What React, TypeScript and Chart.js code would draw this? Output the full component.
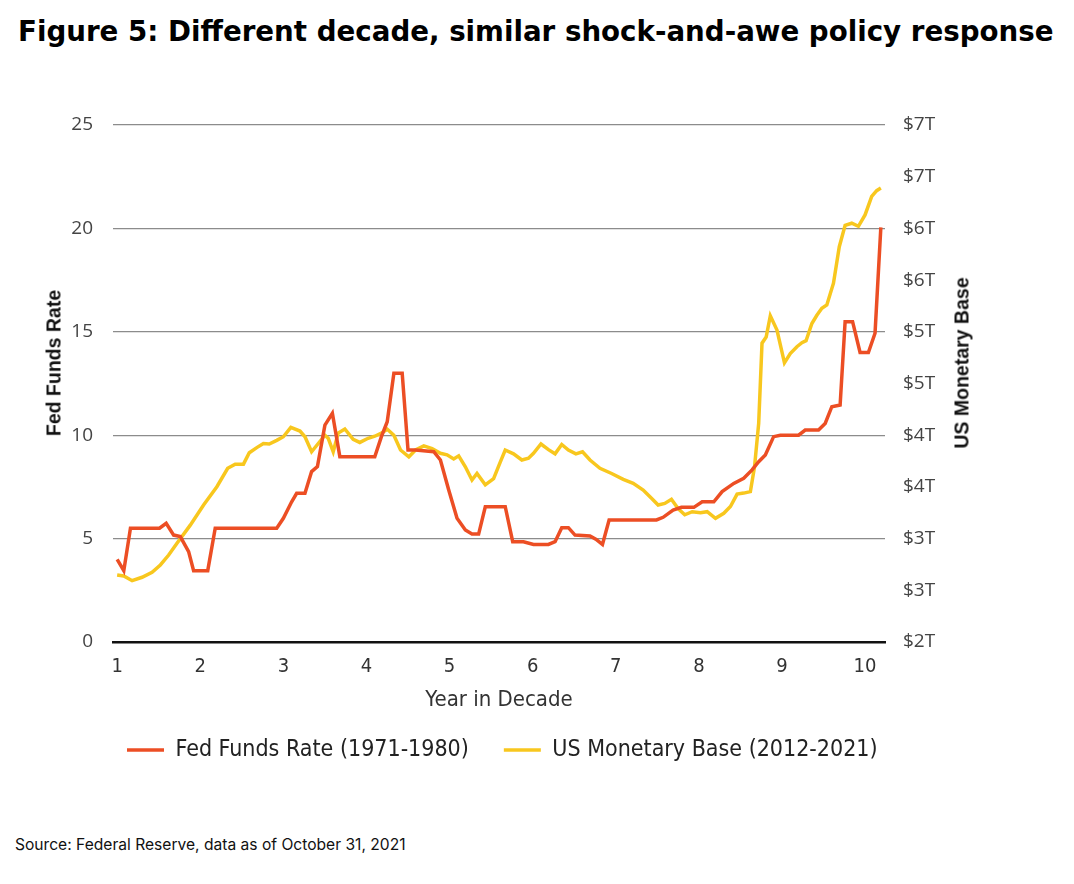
import React, { useEffect, useRef } from "react";
import { Chart, registerables } from "chart.js";

Chart.register(...registerables);

const titleText = "Figure 5: Different decade, similar shock-and-awe policy response";
const sourceText = "Source: Federal Reserve, data as of October 31, 2021";
const leftAxisTitle = "Fed Funds Rate";
const rightAxisTitle = "US Monetary Base";
const xAxisTitle = "Year in Decade";
const fedLabel = "Fed Funds Rate (1971-1980)";
const baseLabel = "US Monetary Base (2012-2021)";

const xTickValues = [1, 2, 3, 4, 5, 6, 7, 8, 9, 10];

const fedYears = [
  1.0, 1.08, 1.16, 1.51, 1.59, 1.68, 1.76, 1.86, 1.92, 2.09, 2.18, 2.92, 3.0, 3.1, 3.16, 3.26,
  3.34, 3.41, 3.5, 3.59, 3.68, 4.1, 4.18, 4.25, 4.33, 4.43, 4.5, 4.59, 4.81, 4.89, 4.99, 5.09,
  5.19, 5.27, 5.35, 5.43, 5.67, 5.76, 5.89, 6.01, 6.19, 6.27, 6.35, 6.43, 6.51, 6.69, 6.76, 6.84,
  6.92, 7.49, 7.57, 7.69, 7.79, 7.94, 8.04, 8.18, 8.28, 8.42, 8.54, 8.64, 8.72, 8.8, 8.9, 8.98,
  9.2, 9.28, 9.44, 9.52, 9.6, 9.7, 9.76, 9.85, 9.94, 10.04, 10.12, 10.19,
];
const fedRates = [
  4.0, 3.45, 5.5, 5.5, 5.74, 5.17, 5.1, 4.37, 3.45, 3.45, 5.5, 5.5, 5.98, 6.78, 7.19, 7.19,
  8.24, 8.48, 10.49, 11.06, 8.96, 8.96, 9.93, 10.65, 13.0, 13.0, 9.28, 9.28, 9.2, 8.8, 7.35, 5.98,
  5.42, 5.22, 5.22, 6.54, 6.54, 4.85, 4.85, 4.72, 4.72, 4.85, 5.53, 5.53, 5.17, 5.13, 4.97, 4.72,
  5.9, 5.9, 6.03, 6.38, 6.51, 6.51, 6.78, 6.78, 7.27, 7.67, 7.92, 8.32, 8.72, 9.04, 9.93, 10.0,
  10.0, 10.25, 10.25, 10.57, 11.38, 11.46, 15.49, 15.49, 14.0, 14.0, 14.93, 20.05,
];

const baseYears = [
  1.0, 1.08, 1.18, 1.3, 1.42, 1.52, 1.62, 1.72, 1.88, 2.04, 2.2, 2.33, 2.42, 2.52, 2.59, 2.68,
  2.76, 2.83, 2.92, 3.0, 3.09, 3.2, 3.26, 3.34, 3.42, 3.5, 3.54, 3.6, 3.66, 3.74, 3.84, 3.92,
  4.02, 4.1, 4.18, 4.25, 4.33, 4.41, 4.51, 4.59, 4.69, 4.79, 4.89, 4.97, 5.05, 5.11, 5.19, 5.27,
  5.33, 5.43, 5.53, 5.61, 5.67, 5.77, 5.87, 5.95, 6.01, 6.1, 6.19, 6.27, 6.35, 6.43, 6.52, 6.6,
  6.69, 6.81, 6.95, 7.09, 7.21, 7.33, 7.43, 7.51, 7.59, 7.67, 7.75, 7.83, 7.92, 8.02, 8.1, 8.2,
  8.3, 8.38, 8.46, 8.54, 8.62, 8.67, 8.72, 8.76, 8.81, 8.86, 8.94, 9.03, 9.1, 9.18, 9.24, 9.29,
  9.36, 9.42, 9.48, 9.54, 9.62, 9.69, 9.76, 9.84, 9.92, 10.0, 10.08, 10.14, 10.19,
];
const baseTrillions = [
  2.648, 2.638, 2.593, 2.626, 2.674, 2.745, 2.841, 2.955, 3.13, 3.325, 3.502, 3.68, 3.72, 3.72, 3.83, 3.88,
  3.92, 3.915, 3.95, 3.985, 4.076, 4.04, 3.985, 3.84, 3.92, 4.0, 3.97, 3.84, 4.02, 4.06, 3.96, 3.93,
  3.97, 3.99, 4.02, 4.057, 4.0, 3.857, 3.79, 3.857, 3.896, 3.87, 3.825, 3.81, 3.77, 3.8, 3.695, 3.567,
  3.63, 3.52, 3.58, 3.74, 3.857, 3.82, 3.76, 3.777, 3.825, 3.915, 3.86, 3.82, 3.91, 3.857, 3.82, 3.84,
  3.76, 3.68, 3.63, 3.573, 3.535, 3.47, 3.39, 3.325, 3.34, 3.38, 3.29, 3.23, 3.26, 3.25, 3.26, 3.196,
  3.245, 3.31, 3.43, 3.44, 3.454, 3.695, 4.115, 4.89, 4.95, 5.155, 5.017, 4.7, 4.79, 4.856, 4.895, 4.914,
  5.08, 5.16, 5.227, 5.26, 5.47, 5.823, 6.03, 6.05, 6.02, 6.13, 6.31, 6.365, 6.39,
];

const RED = "#EC4E24";
const YELLOW = "#F8C71E";

const tickFont = "'Open Sans', 'DejaVu Sans', sans-serif";
const narrowFont = "'Liberation Sans Narrow', 'DejaVu Sans Condensed', 'Liberation Sans', sans-serif";

// Moves the legend box so that it sits just under the axis title, left-aligned under the plot.
const legendPlacement = {
  id: "legendPlacement",
  afterLayout(chart: any) {
    const lg = chart.legend;
    if (!lg) return;
    const w = lg.right - lg.left;
    const h = lg.bottom - lg.top;
    lg.left = 92;
    lg.right = 92 + w;
    lg.top = lg.top - 26.5;
    lg.bottom = lg.top + h;
  },
};

export default function App() {
  const canvasRef = useRef<HTMLCanvasElement | null>(null);

  useEffect(() => {
    document.body.style.margin = "0";
    const canvas = canvasRef.current;
    if (!canvas) return;
    const chart = new Chart(canvas, {
      type: "line",
      data: {
        datasets: [
          {
            label: fedLabel,
            data: fedYears.map((x, i) => ({ x, y: fedRates[i] })),
            borderColor: RED,
            backgroundColor: RED,
            borderWidth: 3.5,
            pointRadius: 0,
            tension: 0,
            yAxisID: "y",
          },
          {
            label: baseLabel,
            data: baseYears.map((x, i) => ({ x, y: baseTrillions[i] })),
            borderColor: YELLOW,
            backgroundColor: YELLOW,
            borderWidth: 3.5,
            pointRadius: 0,
            tension: 0,
            yAxisID: "y1",
          },
        ],
      },
      plugins: [legendPlacement],
      options: {
        animation: false,
        responsive: true,
        maintainAspectRatio: false,
        layout: { padding: { top: 45, left: 0, right: 0, bottom: 0 } },
        plugins: {
          tooltip: { enabled: false },
          legend: {
            position: "bottom",
            fullSize: true,
            align: "start",
            labels: {
              usePointStyle: true,
              pointStyle: "line",
              boxWidth: 37,
              pointStyleWidth: 37,
              padding: 35,
              color: "#222",
              font: { family: narrowFont, size: 23 },
            },
          },
        },
        scales: {
          x: {
            type: "linear",
            min: 0.95,
            max: 10.24,
            afterBuildTicks: (scale: any) => {
              scale.ticks = xTickValues.map((v) => ({ value: v }));
            },
            afterFit: (scale: any) => {
              scale.height = 88;
            },
            grid: { display: false, drawTicks: false },
            border: { display: true, color: "#111", width: 2.5 },
            ticks: {
              autoSkip: false,
              maxRotation: 0,
              padding: 13,
              color: "#333",
              font: { family: narrowFont, size: 20 },
            },
            title: {
              display: true,
              text: xAxisTitle,
              color: "#333",
              padding: { top: 0, bottom: 17 },
              font: { family: narrowFont, size: 22 },
            },
          },
          y: {
            position: "left",
            min: 0,
            max: 25,
            afterFit: (scale: any) => {
              scale.width = 113;
            },
            ticks: {
              stepSize: 5,
              padding: 20,
              color: "#444",
              font: { family: tickFont, size: 19 },
            },
            grid: {
              drawTicks: false,
              color: (ctx: any) => (ctx.tick && ctx.tick.value === 0 ? "rgba(0,0,0,0)" : "#8c8c8c"),
              lineWidth: 1.3,
            },
            border: { display: false },
          },
          y1: {
            position: "right",
            min: 2,
            max: 7,
            afterFit: (scale: any) => {
              scale.width = 189;
            },
            ticks: {
              stepSize: 0.5,
              padding: 18,
              color: "#444",
              font: { family: tickFont, size: 19 },
              callback: (v: any) => "$" + Math.round(Number(v)) + "T",
            },
            grid: { display: false, drawTicks: false },
            border: { display: false },
          },
        },
      },
    });
    return () => chart.destroy();
  }, []);

  return (
    <div style={{ position: "relative", width: 1074, height: 884, background: "#fff", fontFamily: "'Liberation Sans', Arial, sans-serif" }}>
      <div
        style={{
          position: "absolute",
          left: 18,
          top: 13,
          lineHeight: "38px",
          fontSize: 27.7,
          fontWeight: 700,
          fontFamily: "'DejaVu Sans', Roboto, sans-serif",
          color: "#000",
          whiteSpace: "nowrap",
        }}
      >
        {titleText}
      </div>
      <div style={{ position: "absolute", left: 0, top: 80, width: 1074, height: 718 }}>
        <canvas ref={canvasRef} />
      </div>
      <div
        style={{
          position: "absolute",
          left: 53.5,
          top: 363,
          transform: "translate(-50%, -50%) rotate(-90deg)",
          fontWeight: 700,
          fontSize: 19.5,
          whiteSpace: "nowrap",
          color: "#111",
        }}
      >
        {leftAxisTitle}
      </div>
      <div
        style={{
          position: "absolute",
          left: 962,
          top: 363,
          transform: "translate(-50%, -50%) rotate(-90deg)",
          fontWeight: 700,
          fontSize: 19.5,
          whiteSpace: "nowrap",
          color: "#111",
        }}
      >
        {rightAxisTitle}
      </div>
      <div
        style={{
          position: "absolute",
          left: 15,
          top: 836,
          lineHeight: "18px",
          fontSize: 15.6,
          fontFamily: "Inter, 'Liberation Sans', sans-serif",
          color: "#111",
          whiteSpace: "nowrap",
        }}
      >
        {sourceText}
      </div>
    </div>
  );
}
